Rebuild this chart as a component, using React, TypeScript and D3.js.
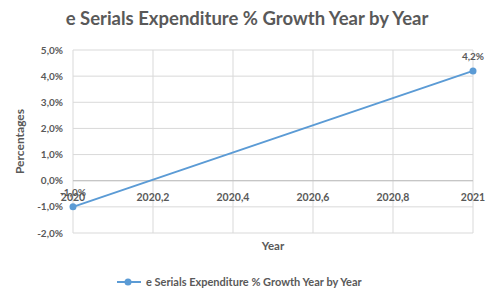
import React from 'react';
import * as d3 from 'd3';

const years = [2020, 2021];
const growth = [-1.0, 4.2];
const xTicks = [2020, 2020.2, 2020.4, 2020.6, 2020.8, 2021];
const yTicks = [-2, -1, 0, 1, 2, 3, 4, 5];
const seriesName = 'e Serials Expenditure % Growth Year by Year';

const W = 492;
const H = 289;
const margin = { top: 50, right: 19, bottom: 56, left: 73 };
const textColor = '#595959';
const lineColor = '#5B9BD5';
const font = 'Lato, "Open Sans", sans-serif';

const fmt = (v: number) => v.toFixed(1).replace('.', ',') + '%';
const fmtX = (v: number) => String(+v.toFixed(1)).replace('.', ',');

export default function App() {
  const x = d3.scaleLinear().domain([2020, 2021]).range([margin.left, W - margin.right]);
  const y = d3.scaleLinear().domain([-2, 5]).range([H - margin.bottom, margin.top]);
  const pts = years.map((yr, i) => [x(yr), y(growth[i])] as [number, number]);
  const line = d3.line()(pts) || '';

  return (
    <svg width={W} height={H} style={{ position: 'absolute', left: 0, top: 0, background: '#fff' }} fontFamily={font}>
      <text x={247} y={25} textAnchor="middle" fontSize={18.5} fontWeight={700} fill={textColor}>
        {seriesName}
      </text>
      {yTicks.map(t => (
        <g key={'y' + t}>
          <line x1={x(2020)} x2={x(2021)} y1={y(t)} y2={y(t)} stroke="#d9d9d9" strokeWidth={1} />
          <text x={63} y={y(t)} dy="0.35em" textAnchor="end" fontSize={10} fontWeight={700} fill={textColor}>
            {fmt(t)}
          </text>
        </g>
      ))}
      {xTicks.map(t => (
        <g key={'x' + t}>
          <line x1={x(t)} x2={x(t)} y1={y(-2)} y2={y(5)} stroke="#d9d9d9" strokeWidth={1} />
          <text x={x(t)} y={y(0) + 20} textAnchor="middle" fontSize={10.5} fontWeight={700} fill={textColor}>
            {fmtX(t)}
          </text>
        </g>
      ))}
      <line x1={x(2020)} x2={x(2021)} y1={y(0)} y2={y(0)} stroke="#bfbfbf" strokeWidth={1} />
      <path d={line} fill="none" stroke={lineColor} strokeWidth={2} />
      {pts.map((p, i) => (
        <g key={'p' + i}>
          <circle cx={p[0]} cy={p[1]} r={3.5} fill={lineColor} />
          <text x={p[0]} y={p[1] - 11} textAnchor="middle" fontSize={10} fontWeight={700} fill={textColor}>
            {fmt(growth[i])}
          </text>
        </g>
      ))}
      <text x={273} y={250} textAnchor="middle" fontSize={11.5} fontWeight={700} fill={textColor}>Year</text>
      <text transform={`translate(24,${(y(5) + y(-2)) / 2}) rotate(-90)`} textAnchor="middle" fontSize={12} fontWeight={700} fill={textColor}>
        Percentages
      </text>
      <line x1={117} x2={141} y1={282} y2={282} stroke={lineColor} strokeWidth={2} />
      <circle cx={128} cy={282} r={3.5} fill={lineColor} />
      <text x={146} y={282} dy="0.35em" fontSize={11} fontWeight={700} fill={textColor}>{seriesName}</text>
    </svg>
  );
}
